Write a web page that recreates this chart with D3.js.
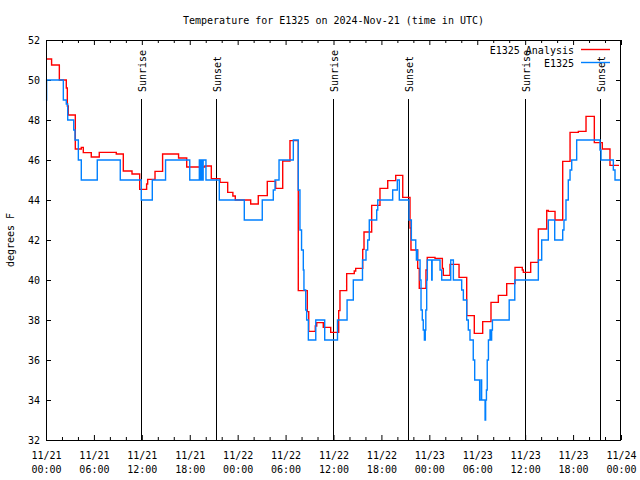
<!DOCTYPE html>
<html><head><meta charset="utf-8">
<script src="https://cdn.jsdelivr.net/npm/d3@7/dist/d3.min.js"></script>
<style>
body{margin:0;background:#fff}
svg{display:block}
text{font-family:"DejaVu Sans Mono",monospace;font-size:10px;fill:#000}
</style>
</head><body>
<svg id="chart" width="640" height="480"></svg>
<script>
// ---- data (hours since 2024-11-21 00:00 UTC, degrees F) ----
const analysisHours = [0,0.7,1.67,2.54,2.67,2.79,3.67,4.42,4.67,5.67,6.67,8.8,9.68,10.77,11.73,12.6,12.73,13.65,14.6,16.6,17.62,19.9,20.7,21.79,22.75,23.4,23.7,25.63,26.58,27.71,28.76,29.64,30.55,31.59,32.72,32.9,33.72,33.9,34.72,35.65,36.65,36.81,37.65,38.6,38.78,39.66,39.82,40.78,41.82,42.79,43.79,44.67,45.58,45.7,46.54,46.74,47.58,47.74,48.71,49.63,49.75,50.59,51.72,52.68,53.63,54.68,55.72,56.64,57.69,58.73,59.64,59.77,60.69,61.65,62.7,62.9,63.74,64.7,65.62,66.66,67.62,68.66,69.66,70.62,71.75];
const analysisTemps = [51.05,50.75,50.0,49.6,48.7,48.25,46.55,46.63,46.37,46.15,46.38,46.3,45.45,45.3,44.53,44.8,45.03,45.43,46.3,46.1,45.65,45.7,45.07,44.88,44.38,44.2,44.0,43.8,44.22,44.93,44.58,45.95,46.97,39.47,38.42,37.43,37.7,37.87,37.63,37.38,38.47,39.47,40.32,40.45,40.58,41.53,42.4,43.73,44.58,44.97,45.23,44.13,42.6,41.5,40.58,39.58,40.5,41.13,41.08,40.58,40.23,40.78,40.13,38.22,37.33,37.92,38.88,39.23,39.82,40.63,40.5,40.38,40.88,42.55,43.48,43.43,43.0,45.93,47.38,47.43,48.18,46.87,46.55,45.73,45.73];

const observedHours = [0,0.08,2.17,2.54,2.72,3.47,3.63,4.05,4.42,6.42,9.3,11.93,13.31,14.97,18.0,19.2,19.35,19.42,19.5,19.55,19.62,19.68,20.03,21.7,24.83,27.08,28.46,28.68,29.18,30.97,31.59,31.8,32.0,32.22,32.3,32.52,32.64,32.85,33.78,34.9,36.5,37.7,38.48,39.63,40.07,40.28,40.48,41.41,41.54,43.41,43.99,44.24,45.45,45.75,46.3,46.38,46.45,46.52,46.84,46.96,47.12,47.24,47.38,47.49,47.56,47.67,47.75,48.3,48.35,49.34,49.55,50.68,51.01,52.05,52.26,52.68,52.88,53.09,53.5,53.68,54.3,54.5,54.55,54.98,55.05,55.15,55.25,55.4,55.6,55.7,55.8,55.9,58.0,58.7,61.65,62.07,62.9,63.7,64.7,64.86,65.11,65.4,65.62,65.83,66.45,69.37,69.5,71.04,71.25,71.87];
const observedTemps = [49,50,49,48.8,48,47.5,47,46,45,46,45,44,45,46,45,46,45,46,45,46,45,46,45,44,43,44,44.5,45,46,47,44.5,42.5,41.5,40.5,39.5,38.5,38,37,38,37,38,39,40,41,41.5,42,43,43.5,44,44.5,45,44,43,42,41.5,41,41.5,41,40,38.5,38,37.5,37,37.5,38.5,40,41,40,41,40.5,40,41,40,39.5,39,38,37.5,37,36,35,34,35,34,33,34,34.5,36,37,37.5,37,37.5,38,39,40,41,42,43,42,42.5,43,44,45,45.5,46,47,46.5,46,45.5,45,45];

const sunriseHours = [11.96, 35.98, 60.02];
const sunsetHours = [21.33, 45.37, 69.41];

const xMajorTicks = [0,6,12,18,24,30,36,42,48,54,60,66,72];
const xMinorTicks = [2,4,8,10,14,16,20,22,26,28,32,34,38,40,44,46,50,52,56,58,62,64,68,70];
const xTickDates = ["11/21","11/21","11/21","11/21","11/22","11/22","11/22","11/22","11/23","11/23","11/23","11/23","11/24"];
const xTickTimes = ["00:00","06:00","12:00","18:00","00:00","06:00","12:00","18:00","00:00","06:00","12:00","18:00","00:00"];
const yTicks = [32,34,36,38,40,42,44,46,48,50,52];

const seriesNames = ["E1325 Analysis", "E1325"];
const titleText = "Temperature for E1325 on 2024-Nov-21 (time in UTC)";
const yLabelText = "degrees F";

// ---- drawing ----
const colors = ["#ff0000", "#0080ff"];
const L = 46, R = 621, T = 40, B = 440;
const svg = d3.select("#chart");
const x = d3.scaleLinear().domain([0, 72]).range([L, R]);
const y = d3.scaleLinear().domain([32, 52]).range([B, T]);

svg.append("text").attr("x", (L + R) / 2).attr("y", 24).attr("text-anchor", "middle").text(titleText);
svg.append("text").attr("transform", `translate(14,${(T + B) / 2}) rotate(-90)`).attr("text-anchor", "middle").text(yLabelText);

function styleAxis(g){ g.select(".domain").remove(); g.selectAll(".tick line").attr("stroke","#000"); }

// bottom axis major with two-line labels
const gb = svg.append("g").attr("transform", `translate(0,${B})`)
  .call(d3.axisBottom(x).tickValues(xMajorTicks).tickSize(-5).tickPadding(12).tickFormat(() => ""));
styleAxis(gb);
gb.selectAll(".tick text").each(function(d, i){
  const t = d3.select(this).attr("y", null).attr("dy", null);
  t.append("tspan").attr("x", 0).attr("y", 19).text(xTickDates[i]);
  t.append("tspan").attr("x", 0).attr("y", 33).text(xTickTimes[i]);
});
styleAxis(svg.append("g").attr("transform", `translate(0,${B})`)
  .call(d3.axisBottom(x).tickValues(xMinorTicks).tickSize(-3).tickFormat(() => "")));
styleAxis(svg.append("g").attr("transform", `translate(0,${T})`)
  .call(d3.axisTop(x).tickValues(xMajorTicks).tickSize(-5).tickFormat(() => "")));
styleAxis(svg.append("g").attr("transform", `translate(0,${T})`)
  .call(d3.axisTop(x).tickValues(xMinorTicks).tickSize(-3).tickFormat(() => "")));

const gl = svg.append("g").attr("transform", `translate(${L},0)`)
  .call(d3.axisLeft(y).tickValues(yTicks).tickSize(-5).tickPadding(6).tickFormat(d3.format("d")));
styleAxis(gl);
gl.selectAll(".tick text").attr("x", -6).attr("dy", "0.35em");
styleAxis(svg.append("g").attr("transform", `translate(${R},0)`)
  .call(d3.axisRight(y).tickValues(yTicks).tickSize(-5).tickFormat(() => "")));
svg.selectAll("g").attr("font-family", null).attr("font-size", null);

// sun lines
const sunEvents = sunriseHours.map(h => ({h, label: "Sunrise"})).concat(sunsetHours.map(h => ({h, label: "Sunset"})));
sunEvents.forEach(e => {
  const px = Math.floor(x(e.h)) + 0.5;
  svg.append("line").attr("x1", px).attr("x2", px).attr("y1", 99).attr("y2", B).attr("stroke", "#000").attr("stroke-width", 1);
  svg.append("text").attr("transform", `translate(${px + 4},92) rotate(-90)`).attr("text-anchor", "start").text(e.label);
});

// series
const line = d3.line().x(d => x(d[0])).y(d => y(d[1])).curve(d3.curveStepAfter);
const analysis = analysisHours.map((h, i) => [h, analysisTemps[i]]);
const observed = observedHours.map((h, i) => [h, observedTemps[i]]);
[analysis, observed].forEach((s, i) => {
  svg.append("path").datum(s).attr("d", line).attr("fill", "none").attr("stroke", colors[i]).attr("stroke-width", 1.4);
});

// border
svg.append("rect").attr("x", L + 0.5).attr("y", T + 0.5).attr("width", R - L - 1).attr("height", B - T).attr("fill", "none").attr("stroke", "#000");

// legend
seriesNames.forEach((n, i) => {
  const ly = 50 + i * 13;
  svg.append("text").attr("x", 574).attr("y", ly + 4).attr("text-anchor", "end").text(n);
  svg.append("line").attr("x1", 581).attr("x2", 610).attr("y1", ly - 0.5).attr("y2", ly - 0.5).attr("stroke", colors[i]).attr("stroke-width", 1.4);
});
</script>
</body></html>
